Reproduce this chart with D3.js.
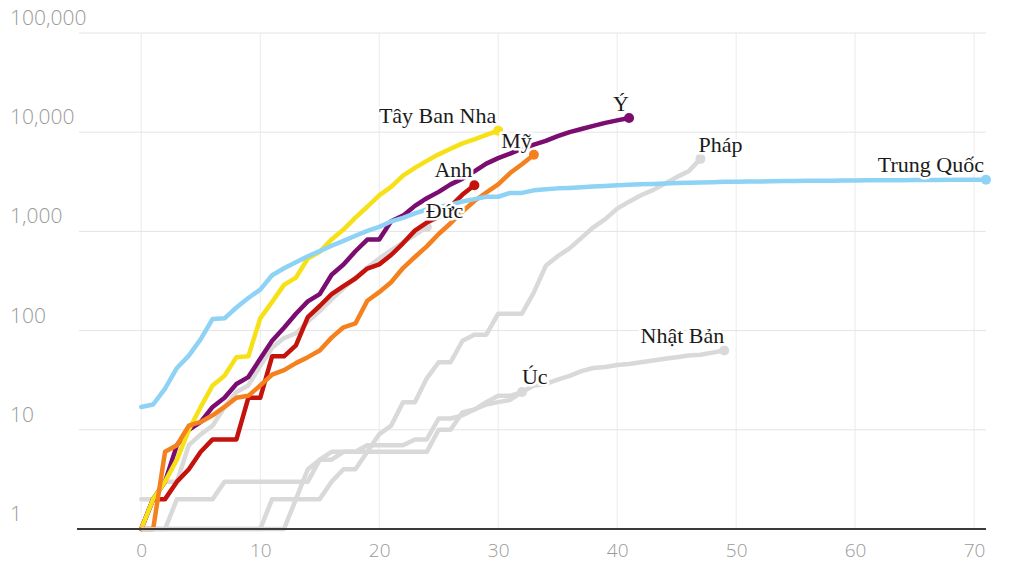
<!DOCTYPE html>
<html>
<head>
<meta charset="utf-8">
<script src="https://cdn.jsdelivr.net/npm/d3@7"></script>
<style>
  body { margin: 0; background: #fff; }
  svg { display: block; }
</style>
</head>
<body>
<div id="chart"></div>
<script>
// --- Deaths since first death, log scale ---
// each array starts at day 0
const chinaDeaths = [17, 18, 26, 42, 56, 82, 131, 133, 171, 213, 259, 361, 425, 490, 562, 632, 717, 804, 904, 1011,
    1111, 1260, 1368, 1520, 1662, 1765, 1863, 2002, 2114, 2236, 2236, 2441, 2443, 2593, 2663, 2715, 2744, 2788, 2835, 2870,
    2912, 2945, 2981, 3013, 3042, 3070, 3097, 3119, 3136, 3158, 3169, 3176, 3189, 3199, 3213, 3226, 3237, 3245, 3248, 3255,
    3261, 3270, 3277, 3281, 3285, 3295, 3300, 3304, 3308, 3309, 3316, 3322];
const italyDeaths = [1, 2, 3, 7, 10, 12, 17, 21, 29, 34, 52, 79, 107, 148, 197, 233, 366, 463, 631, 827, 827,
    1266, 1441, 1809, 2158, 2503, 2978, 3405, 4032, 4825, 5476, 6077, 6820, 7503, 8165, 9134, 10023, 10779, 11591, 12428, 13155, 13915];
const spainDeaths = [1, 2, 3, 5, 10, 17, 28, 35, 54, 55, 133, 195, 289, 342, 533, 623, 830, 1043, 1375, 1772,
    2311, 2808, 3647, 4365, 5138, 5982, 6803, 7716, 8464, 9387, 10348];
const usDeaths = [1, 1, 6, 7, 11, 12, 14, 17, 21, 22, 28, 36, 40, 47, 54, 63, 85, 108, 118, 200, 244, 307, 427, 552,
    706, 942, 1209, 1581, 2026, 2467, 2978, 3873, 4757, 5926];
const ukDeaths = [1, 2, 2, 3, 4, 6, 8, 8, 8, 21, 21, 55, 55, 71, 137, 177, 233, 281, 335, 422, 465, 578, 759, 1019,
    1228, 1408, 1789, 2352, 2921];
const germanyDeaths = [2, 2, 3, 3, 7, 9, 11, 17, 24, 28, 44, 67, 84, 94, 123, 157, 206, 267, 342, 433, 533, 645, 775, 920, 1107];
const franceDeaths = [1, 1, 1, 1, 1, 1, 1, 1, 1, 1, 1, 2, 2, 2, 2, 2, 3, 4, 4, 6, 9, 11, 19, 19, 33, 48, 48, 79, 91, 91,
    148, 148, 148, 243, 450, 562, 674, 860, 1100, 1331, 1696, 1995, 2314, 2606, 3024, 3523, 4032, 5387];
const japanDeaths = [1, 1, 1, 1, 1, 1, 1, 1, 1, 1, 1, 1, 1, 2, 4, 5, 6, 6, 6, 6, 6, 6, 6, 6, 6, 10, 10, 15, 16, 19,
    22, 22, 24, 28, 29, 32, 35, 39, 42, 43, 45, 46, 48, 50, 52, 54, 56, 57, 60, 63];
const australiaDeaths = [1, 1, 1, 2, 2, 2, 2, 3, 3, 3, 3, 3, 3, 3, 3, 5, 5, 6, 6, 7, 7, 7, 7, 8, 8, 13, 13, 14, 16, 18, 19, 20, 24];

const xTicks = [0, 10, 20, 30, 40, 50, 60, 70];
const yTicks = [1, 10, 100, 1000, 10000, 100000];

const GREY = "#d9d9d9";

// drawing order: greys underneath
const series = [
    { name: "Nhật Bản", values: japanDeaths, color: GREY, anchor: "end", dx: 0, dy: -8 },
    { name: "Úc", values: australiaDeaths, color: GREY, anchor: "start", dx: 0, dy: -8 },
    { name: "Pháp", values: franceDeaths, color: GREY, anchor: "start", dx: -2, dy: -7 },
    { name: "Đức", values: germanyDeaths, color: GREY, anchor: "start", dx: -1, dy: -9 },
    { name: "Anh", values: ukDeaths, color: "#c3130c", anchor: "end", dx: -2, dy: -8 },
    { name: "Ý", values: italyDeaths, color: "#7a0d6f", anchor: "middle", dx: -8, dy: -7 },
    { name: "Tây Ban Nha", values: spainDeaths, color: "#f6e116", anchor: "end", dx: -2, dy: -8 },
    { name: "Mỹ", values: usDeaths, color: "#f5801e", anchor: "end", dx: -2, dy: -7 },
    { name: "Trung Quốc", values: chinaDeaths, color: "#8ed2f5", anchor: "end", dx: -2, dy: -8 }
];

const width = 1024, height = 587;

const svg = d3.select("#chart")
    .append("svg")
    .attr("width", width)
    .attr("height", height);

const x = d3.scaleLinear().domain([-5.4, 71]).range([77, 986]);
const y = d3.scaleLog().domain([1, 100000]).range([529, 33]);

// grid
svg.append("g")
    .selectAll("line")
    .data(xTicks)
    .enter()
    .append("line")
    .attr("x1", d => x(d)).attr("x2", d => x(d))
    .attr("y1", y(100000)).attr("y2", y(1))
    .attr("stroke", "#ebebeb")
    .attr("stroke-width", 1);

svg.append("g")
    .selectAll("line")
    .data(yTicks.slice(1))
    .enter()
    .append("line")
    .attr("x1", 79).attr("x2", 986)
    .attr("y1", d => y(d)).attr("y2", d => y(d))
    .attr("stroke", "#e4e4e4")
    .attr("stroke-width", 1);

// y labels sit above the grid lines
svg.append("g")
    .selectAll("text")
    .data(yTicks)
    .enter()
    .append("text")
    .attr("x", 10)
    .attr("y", d => y(d) - 8)
    .attr("font-family", "'Open Sans', sans-serif")
    .attr("font-weight", 300)
    .attr("font-size", 21)
    .attr("fill", "#9a9a9a")
    .text(d3.format(","));

// x axis
const xAxis = svg.append("g")
    .attr("transform", `translate(0,${y(1)})`)
    .call(d3.axisBottom(x).tickValues(xTicks).tickSize(0).tickPadding(15));
xAxis.select(".domain").remove();
xAxis.selectAll("text")
    .attr("font-family", "'Open Sans', sans-serif")
    .attr("font-weight", 300)
    .attr("font-size", 19)
    .attr("fill", "#9a9a9a");

const line = d3.line()
    .x((d, i) => x(i))
    .y(d => y(d));

const lines = svg.append("g");
series.forEach(s => {
    lines.append("path")
        .datum(s.values)
        .attr("fill", "none")
        .attr("stroke", s.color)
        .attr("stroke-width", 4.5)
        .attr("stroke-linejoin", "round")
        .attr("stroke-linecap", "round")
        .attr("d", line);
    const last = s.values.length - 1;
    lines.append("circle")
        .attr("cx", x(last))
        .attr("cy", y(s.values[last]))
        .attr("r", 5)
        .attr("fill", s.color);
});

// baseline
svg.append("line")
    .attr("x1", 77).attr("x2", 986)
    .attr("y1", y(1)).attr("y2", y(1))
    .attr("stroke", "#3a3a3a")
    .attr("stroke-width", 2);

// redraw the flat start of the grey lines sitting on the baseline
series.filter(s => s.color === GREY).forEach(s => {
    const flat = [];
    for (let i = 0; i < s.values.length && s.values[i] === 1; i++) flat.push(1);
    if (flat.length > 1) {
        lines.append("path")
            .datum(flat)
            .attr("fill", "none")
            .attr("stroke", s.color)
            .attr("stroke-width", 3)
            .attr("d", line);
    }
});

// country labels with white halo
svg.append("g")
    .selectAll("text")
    .data(series)
    .enter()
    .append("text")
    .attr("x", d => x(d.values.length - 1) + d.dx)
    .attr("y", d => y(d.values[d.values.length - 1]) + d.dy)
    .attr("text-anchor", d => d.anchor)
    .attr("font-family", "'Liberation Serif', 'Times New Roman', serif")
    .attr("font-size", 22)
    .attr("fill", "#1b1b1b")
    .attr("stroke", "#fff")
    .attr("stroke-width", 5)
    .attr("stroke-linejoin", "round")
    .attr("paint-order", "stroke")
    .text(d => d.name);
</script>
</body>
</html>
